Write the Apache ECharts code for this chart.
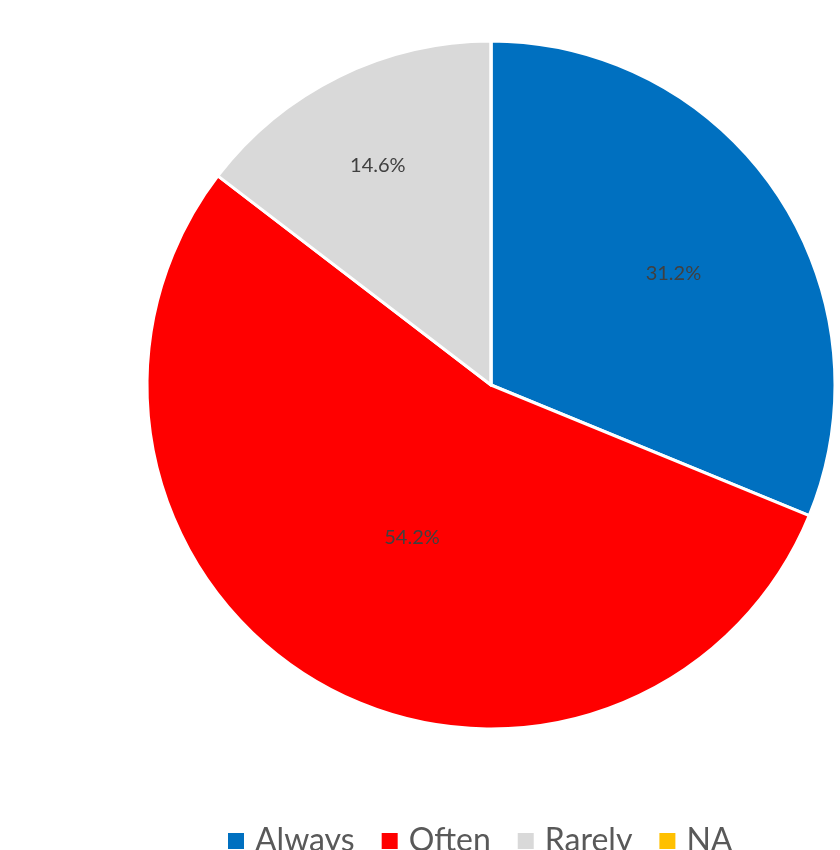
<!DOCTYPE html>
<html>
<head>
<meta charset="utf-8">
<script src="https://cdn.jsdelivr.net/npm/echarts@6/dist/echarts.min.js"></script>
<style>
  html, body { margin: 0; padding: 0; background: #fff; }
  #chart { width: 840px; height: 850px; }
</style>
</head>
<body>
<div id="chart"></div>
<script>
// Answer categories and their shares (percent)
const categories = ['Always', 'Often', 'Rarely', 'NA'];
const shares = [31.2, 54.2, 14.6, 0];
const colors = ['#0070C0', '#FF0000', '#D9D9D9', '#FFC000'];

// Pie geometry and per-slice label distance (fraction of radius)
const CX = 491, CY = 385, R = 344;
const labelRadius = [0.635, 0.49, 0.73, 0.5];
const labelShift = [[1, 10], [5, 6], [-2, 6], [0, 0]];

const total = shares.reduce((a, b) => a + b, 0);
const midAngles = [];
let acc = 0;
shares.forEach(v => { midAngles.push((acc + v / 2) / total * 2 * Math.PI); acc += v; });

const chart = echarts.init(document.getElementById('chart'));
chart.setOption({
  animation: false,
  legend: {
    data: categories,
    bottom: -12,
    left: 223,
    icon: 'rect',
    itemWidth: 16,
    itemHeight: 16,
    itemGap: 27,
    itemStyle: { borderWidth: 0, borderColor: 'transparent' },
    textStyle: { fontFamily: 'Lato', fontSize: 32, color: '#595959', padding: [0, 0, 0, 6] }
  },
  series: [{
    type: 'pie',
    center: [CX, CY],
    radius: [0, R],
    startAngle: 90,
    clockwise: true,
    avoidLabelOverlap: false,
    itemStyle: { borderColor: '#ffffff', borderWidth: 3 },
    label: {
      show: true,
      position: 'inside',
      fontFamily: 'Lato',
      fontSize: 20,
      color: '#404040',
      formatter: p => p.value > 0 ? p.value.toFixed(1) + '%' : ''
    },
    labelLine: { show: false },
    labelLayout: params => {
      const i = params.dataIndex;
      const a = midAngles[i];
      const r = labelRadius[i] * R;
      return {
        x: CX + r * Math.sin(a) + labelShift[i][0],
        y: CY - r * Math.cos(a) + labelShift[i][1],
        align: 'center',
        verticalAlign: 'middle'
      };
    },
    emphasis: { disabled: true },
    data: categories.map((c, i) => ({ name: c, value: shares[i], itemStyle: { color: colors[i] } }))
  }]
});
</script>
</body>
</html>
